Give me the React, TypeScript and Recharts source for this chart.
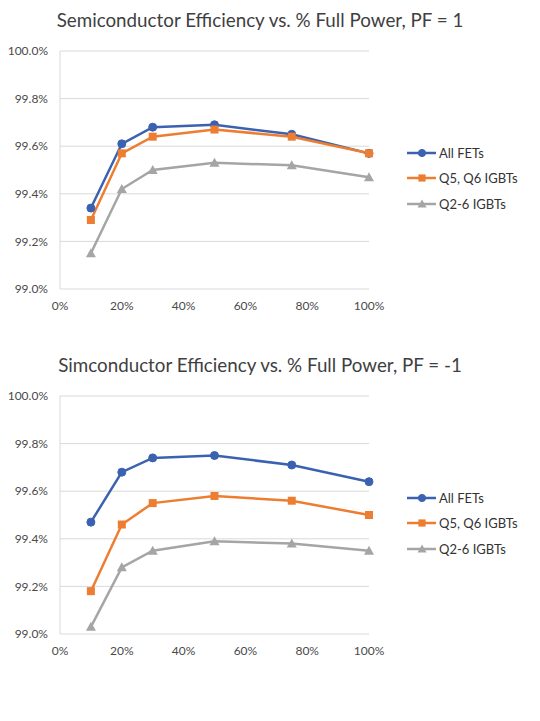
import React from "react";
import { LineChart, Line, XAxis, YAxis, CartesianGrid, Legend } from "recharts";

const powerLevels = [10, 20, 30, 50, 75, 100];
const xTicks = [0, 20, 40, 60, 80, 100];
const yTicks = [99.0, 99.2, 99.4, 99.6, 99.8, 100.0];

const pf1AllFets = [99.34, 99.61, 99.68, 99.69, 99.65, 99.57];
const pf1Q5Q6 = [99.29, 99.57, 99.64, 99.67, 99.64, 99.57];
const pf1Q2to6 = [99.15, 99.42, 99.5, 99.53, 99.52, 99.47];

const pfm1AllFets = [99.47, 99.68, 99.74, 99.75, 99.71, 99.64];
const pfm1Q5Q6 = [99.18, 99.46, 99.55, 99.58, 99.56, 99.5];
const pfm1Q2to6 = [99.03, 99.28, 99.35, 99.39, 99.38, 99.35];

const seriesNames = ["All FETs", "Q5, Q6 IGBTs", "Q2-6 IGBTs"];
const seriesColors = ["#3A62B0", "#ED7D31", "#A5A5A5"];
const seriesShapes = ["circle", "square", "triangle"];

const FONT = "Lato, 'Open Sans', sans-serif";
const TEXT = "#4a4a4a";

function Marker({ cx, cy, shape, color, size = 4 }: any) {
  if (cx == null || cy == null) return null;
  if (shape === "circle") return <circle cx={cx} cy={cy} r={size} fill={color} stroke={color} />;
  if (shape === "square")
    return <rect x={cx - size} y={cy - size} width={size * 2} height={size * 2} fill={color} />;
  const s = size * 1.25;
  return (
    <polygon
      points={`${cx},${cy - s} ${cx + s},${cy + s * 0.8} ${cx - s},${cy + s * 0.8}`}
      fill={color}
    />
  );
}

function LegendContent() {
  return (
    <div style={{ fontFamily: FONT, fontSize: 13, color: "#333" }}>
      {seriesNames.map((n, i) => (
        <div key={n} style={{ display: "flex", alignItems: "center", height: 25.5 }}>
          <svg width={30} height={12} style={{ marginRight: 2 }}>
            <line x1={0} y1={6} x2={29} y2={6} stroke={seriesColors[i]} strokeWidth={2.5} />
            <Marker cx={15} cy={6} shape={seriesShapes[i]} color={seriesColors[i]} size={3.6} />
          </svg>
          <span>{n}</span>
        </div>
      ))}
    </div>
  );
}

function EffChart({ title, series, top }: { title: string; series: number[][]; top: number }) {
  const data = powerLevels.map((p, i) => ({
    p,
    s0: series[0][i],
    s1: series[1][i],
    s2: series[2][i],
  }));
  return (
    <div style={{ position: "absolute", left: 0, top, width: 540, height: 330 }}>
      <div
        style={{
          position: "absolute",
          left: 0,
          top: 8,
          width: 520,
          textAlign: "center",
          fontFamily: FONT,
          fontSize: 18.8,
          color: "#3f3f3f",
          whiteSpace: "nowrap",
        }}
      >
        {title}
      </div>
      <LineChart width={540} height={330} data={data} margin={{ top: 51, right: 38, bottom: 11, left: 8 }}>
        <CartesianGrid vertical={false} stroke="#D9D9D9" strokeWidth={1} />
        <XAxis
          dataKey="p"
          type="number"
          domain={[0, 100]}
          ticks={xTicks}
          tickFormatter={(v: number) => `${v}%`}
          axisLine={false}
          tickLine={false}
          tickMargin={6}
          tick={{ fill: TEXT, fontSize: 12, fontFamily: FONT }}
        />
        <YAxis
          type="number"
          domain={[99, 100]}
          ticks={yTicks}
          width={52}
          tickFormatter={(v: number) => `${v.toFixed(1)}%`}
          axisLine={{ stroke: "#D9D9D9" }}
          tickLine={false}
          tickMargin={6}
          tick={{ fill: TEXT, fontSize: 12, fontFamily: FONT }}
        />
        <Legend
          layout="vertical"
          align="right"
          verticalAlign="middle"
          content={<LegendContent />}
          wrapperStyle={{ position: "absolute", left: 407, top: 140, right: "auto", width: 133 }}
        />
        {[0, 1, 2].map((k) => (
          <Line
            key={k}
            dataKey={`s${k}`}
            name={seriesNames[k]}
            stroke={seriesColors[k]}
            strokeWidth={2.5}
            isAnimationActive={false}
            dot={(props: any) => (
              <Marker key={`d${k}-${props.index}`} cx={props.cx} cy={props.cy} shape={seriesShapes[k]} color={seriesColors[k]} />
            )}
            activeDot={false}
          />
        ))}
      </LineChart>
    </div>
  );
}

export default function App() {
  return (
    <div style={{ position: "absolute", left: 0, top: 0, width: 540, height: 721, background: "#fff" }}>
      <EffChart
        title="Semiconductor Efficiency vs. % Full Power, PF = 1"
        series={[pf1AllFets, pf1Q5Q6, pf1Q2to6]}
        top={0}
      />
      <EffChart
        title="Simconductor Efficiency vs. % Full Power, PF = -1"
        series={[pfm1AllFets, pfm1Q5Q6, pfm1Q2to6]}
        top={345}
      />
    </div>
  );
}
